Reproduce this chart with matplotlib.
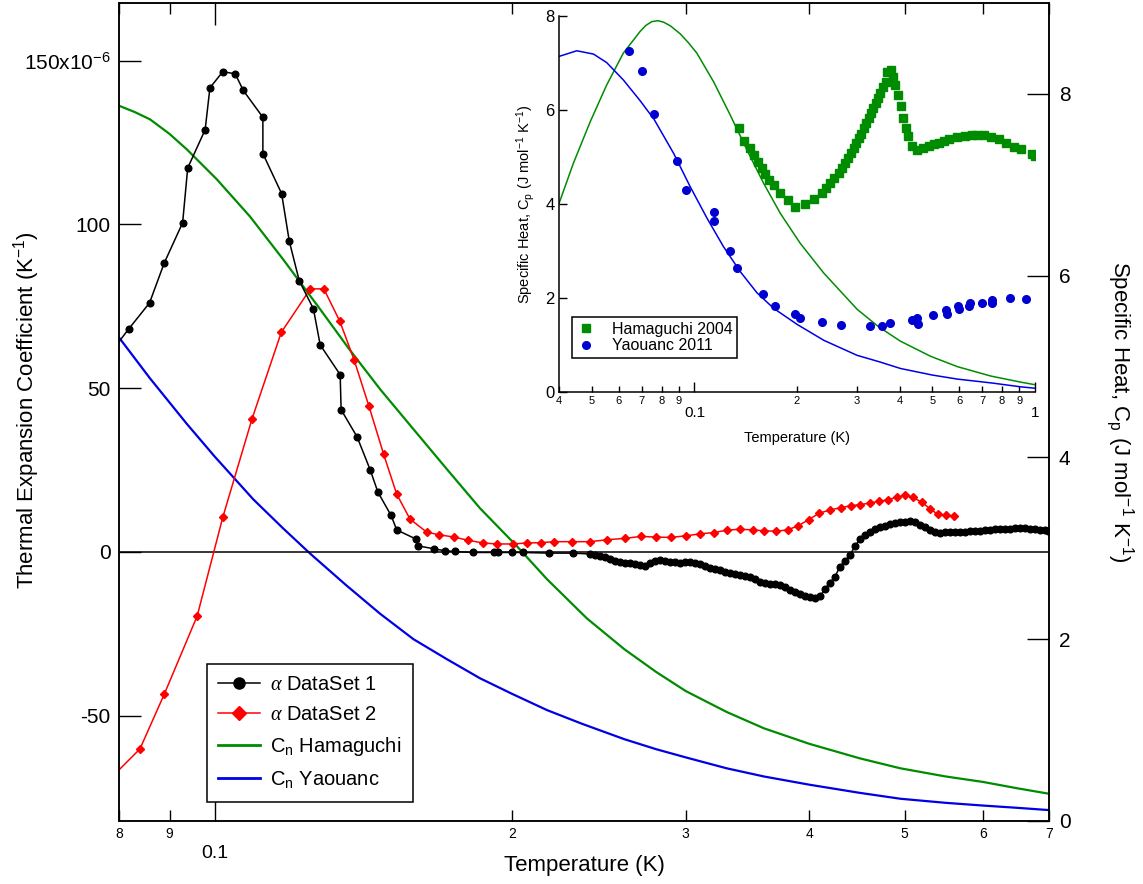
import numpy as np
import matplotlib
matplotlib.use("Agg")
import matplotlib.pyplot as plt
from matplotlib.ticker import FixedLocator, FuncFormatter, NullLocator
from matplotlib.lines import Line2D

# ---------------- data ----------------
# alpha DataSet 1 : T (K), alpha (1e-6 / K)
ds1_T = [0.0790, 0.0818, 0.0859, 0.0889, 0.0928, 0.0939, 0.0978, 0.0989, 0.1019, 0.1049,
         0.1069, 0.1119, 0.1119, 0.1169, 0.1190, 0.1218, 0.1259, 0.1279, 0.1340, 0.1343,
         0.1394, 0.1437, 0.1463, 0.1509, 0.1529, 0.1599, 0.1608, 0.1669, 0.1712, 0.1752,
         0.1826, 0.1919, 0.1935, 0.2000, 0.2052, 0.2182, 0.2309,
         0.2400, 0.2428, 0.2457, 0.2486, 0.2515, 0.2544, 0.2574, 0.2604, 0.2635, 0.2666,
         0.2697, 0.2729, 0.2761, 0.2793, 0.2826, 0.2859, 0.2892, 0.2926, 0.2961, 0.2995,
         0.3030, 0.3066, 0.3102, 0.3138, 0.3175, 0.3212, 0.3250, 0.3288, 0.3327, 0.3366,
         0.3405, 0.3445, 0.3486, 0.3526, 0.3568, 0.3610, 0.3652, 0.3695, 0.3738, 0.3782,
         0.3826, 0.3871, 0.3917, 0.3962, 0.4009, 0.4056, 0.4104, 0.4152, 0.4200, 0.4250,
         0.4299, 0.4350, 0.4401, 0.4452, 0.4505, 0.4558, 0.4611, 0.4665, 0.4720, 0.4775,
         0.4831, 0.4888, 0.4945, 0.5003, 0.5062, 0.5121, 0.5181, 0.5242, 0.5303, 0.5366,
         0.5429, 0.5492, 0.5557, 0.5622, 0.5688, 0.5754, 0.5822, 0.5890, 0.5959, 0.6029,
         0.6100, 0.6171, 0.6244, 0.6317, 0.6391, 0.6466, 0.6542, 0.6619, 0.6696, 0.6775,
         0.6854, 0.6935, 0.6983]
ds1_a = [62.0, 68.0, 76.0, 88.2, 100.5, 117.2, 128.9, 141.7, 146.6, 146.0,
         140.9, 132.7, 121.6, 109.4, 94.9, 82.8, 74.2, 63.2, 54.1, 43.4,
         35.1, 25.1, 18.3, 11.1, 6.7, 3.9, 1.8, 0.9, 0.3, 0.1,
         -0.2, -0.2, -0.2, -0.2, -0.2, -0.4, -0.4,
         -0.67, -0.82, -1.16, -1.71, -2.29, -2.75, -3.06, -3.30, -3.39, -3.57,
         -3.91, -4.28, -3.48, -2.84, -2.44, -2.69, -2.96, -3.12, -3.27, -3.12,
         -2.96, -3.27, -3.61, -4.31, -5.04, -5.38, -5.68, -6.02, -6.33, -6.63,
         -6.94, -7.30, -7.73, -8.40, -9.10, -9.62, -9.78, -9.93, -10.08, -10.85,
         -11.61, -12.28, -12.92, -13.47, -13.81, -13.99, -13.60, -11.30, -9.38, -7.55,
         -4.49, -2.69, -0.92, 1.74, 3.88, 5.01, 5.96, 6.90, 7.55, 8.00,
         8.46, 8.83, 9.01, 9.17, 9.35, 9.17, 8.31, 7.49, 6.81, 6.11,
         5.90, 5.96, 6.02, 6.05, 6.11, 6.17, 6.26, 6.36, 6.48, 6.60,
         6.72, 6.84, 6.94, 7.03, 7.09, 7.18, 7.24, 7.15, 7.03, 6.87,
         6.72, 6.60, 6.51]

# alpha DataSet 2
ds2_T = [0.0783, 0.0840, 0.0889, 0.0960, 0.1019, 0.1091, 0.1168, 0.1250, 0.1290, 0.1339,
         0.1384, 0.1433, 0.1483, 0.1529, 0.1577, 0.1640, 0.1689, 0.1748, 0.1807, 0.1871,
         0.1930, 0.2004, 0.2071, 0.2140, 0.2209, 0.2300, 0.2400, 0.2499, 0.2601, 0.2702,
         0.2800, 0.2899, 0.3002, 0.3103, 0.3205, 0.3302, 0.3401, 0.3509, 0.3605, 0.3705,
         0.3804, 0.3897, 0.3995, 0.4096, 0.4203, 0.4309, 0.4411, 0.4507, 0.4606, 0.4708,
         0.4808, 0.4910, 0.5006, 0.5093, 0.5205, 0.5307, 0.5402, 0.5507, 0.5612]
ds2_a = [-69.4, -60.2, -43.5, -19.6, 10.5, 40.6, 67.0, 80.3, 80.3, 70.4,
         58.7, 44.5, 29.8, 17.6, 10.0, 6.0, 5.2, 4.5, 3.5, 2.7,
         2.4, 2.4, 2.7, 2.8, 3.1, 3.1, 3.1, 3.7, 4.1, 4.7,
         4.5, 4.4, 4.9, 5.5, 5.9, 6.6, 6.9, 6.7, 6.4, 6.3,
         6.7, 7.9, 9.8, 11.8, 12.8, 13.5, 14.1, 14.4, 14.9, 15.4,
         15.9, 16.7, 17.3, 16.7, 15.1, 13.1, 11.4, 11.1, 11.0]

# Cn curves on the main plot (right axis, J/mol/K)
hama_T = [0.0800, 0.0830, 0.0860, 0.0900, 0.0937, 0.1005, 0.1086, 0.1173, 0.1279, 0.1369,
          0.1471, 0.1590, 0.1719, 0.1857, 0.2021, 0.2171, 0.2382, 0.2600, 0.2800, 0.3000,
          0.3300, 0.3600, 0.4000, 0.4500, 0.4948, 0.5500, 0.6000, 0.6500, 0.7000]
hama_C = [7.87, 7.80, 7.72, 7.56, 7.39, 7.06, 6.65, 6.18, 5.63, 5.19,
          4.75, 4.31, 3.87, 3.44, 3.03, 2.66, 2.23, 1.89, 1.64, 1.43,
          1.20, 1.02, 0.85, 0.69, 0.58, 0.49, 0.43, 0.36, 0.30]
yaou_T = [0.0800, 0.0860, 0.0937, 0.1000, 0.1094, 0.1173, 0.1250, 0.1357, 0.1471, 0.1590,
          0.1719, 0.1857, 0.2000, 0.2171, 0.2355, 0.2600, 0.2800, 0.3000, 0.3300, 0.3600,
          0.4000, 0.4500, 0.4948, 0.5500, 0.6000, 0.6500, 0.7000]
yaou_C = [5.32, 4.87, 4.37, 4.01, 3.54, 3.22, 2.94, 2.60, 2.28, 2.00,
          1.78, 1.57, 1.40, 1.22, 1.07, 0.90, 0.79, 0.70, 0.58, 0.49,
          0.40, 0.31, 0.245, 0.20, 0.17, 0.145, 0.12]

# inset: measured specific heat
ham04_T = [0.1348, 0.1394, 0.1452, 0.1492, 0.1532, 0.1579, 0.1614, 0.1655, 0.1708, 0.1787,
           0.1877, 0.1978, 0.2107, 0.2249, 0.2370, 0.2441, 0.2507, 0.2576, 0.2653, 0.2714,
           0.2776, 0.2818, 0.2884, 0.2936, 0.2989, 0.3036, 0.3085, 0.3141, 0.3199, 0.3249,
           0.3303, 0.3348, 0.3401, 0.3455, 0.3517, 0.3573, 0.3639, 0.3681, 0.3764, 0.3833,
           0.3892, 0.3955, 0.4028, 0.4091, 0.4184, 0.4243, 0.4361, 0.4510, 0.4685, 0.4880,
           0.5046, 0.5221, 0.5400, 0.5585, 0.5912, 0.6212, 0.6515, 0.6771, 0.7081, 0.7408,
           0.7836, 0.8204, 0.8677, 0.9081, 0.9825, 1.0000]
ham04_C = [5.61, 5.33, 5.19, 5.04, 4.90, 4.76, 4.64, 4.51, 4.40, 4.24,
           4.09, 3.94, 4.01, 4.10, 4.23, 4.33, 4.45, 4.55, 4.65, 4.76,
           4.87, 4.97, 5.08, 5.19, 5.29, 5.40, 5.50, 5.61, 5.72, 5.82,
           5.93, 6.04, 6.14, 6.25, 6.36, 6.48, 6.59, 6.81, 6.85, 6.71,
           6.53, 6.32, 6.09, 5.84, 5.61, 5.45, 5.24, 5.15, 5.19, 5.23,
           5.27, 5.30, 5.34, 5.38, 5.42, 5.45, 5.47, 5.47, 5.46, 5.43,
           5.38, 5.30, 5.22, 5.17, 5.06, 5.02]
yao11_T = [0.0640, 0.0703, 0.0761, 0.0888, 0.0945, 0.1140, 0.1140, 0.1268, 0.1333, 0.1589,
           0.1719, 0.1978, 0.2046, 0.2370, 0.2701, 0.3287, 0.3558, 0.3746, 0.4340, 0.4488,
           0.4540, 0.5012, 0.5460, 0.5525, 0.5937, 0.5992, 0.6440, 0.6396, 0.6970, 0.7494,
           0.7494, 0.8428, 0.9436]
yao11_C = [7.26, 6.84, 5.91, 4.91, 4.30, 3.82, 3.63, 3.01, 2.64, 2.09,
           1.83, 1.67, 1.57, 1.48, 1.43, 1.40, 1.41, 1.46, 1.53, 1.57,
           1.45, 1.64, 1.74, 1.67, 1.83, 1.76, 1.89, 1.83, 1.89, 1.96,
           1.89, 2.01, 1.98]

# inset: model curves
in_hama_T = [0.0400, 0.0441, 0.0494, 0.0552, 0.0618, 0.0692, 0.0720, 0.0749, 0.0780, 0.0811,
             0.0850, 0.0908, 0.0960, 0.1016, 0.1138, 0.1274, 0.1426, 0.1596, 0.1787, 0.2046,
             0.2397, 0.3003, 0.3470, 0.4028, 0.4935, 0.5912, 0.7410, 0.9080, 1.0000]
in_hama_C = [4.01, 4.87, 5.75, 6.53, 7.21, 7.67, 7.80, 7.88, 7.90, 7.87,
             7.79, 7.62, 7.43, 7.21, 6.60, 5.89, 5.15, 4.44, 3.80, 3.16,
             2.53, 1.76, 1.39, 1.08, 0.76, 0.54, 0.34, 0.21, 0.155]
in_yaou_T = [0.0400, 0.0451, 0.0505, 0.0552, 0.0618, 0.0692, 0.0761, 0.0868, 0.0971, 0.1088,
             0.1217, 0.1363, 0.1526, 0.1708, 0.2000, 0.2397, 0.3003, 0.3500, 0.4028, 0.5000,
             0.5912, 0.7500, 0.9080, 1.0000]
in_yaou_C = [7.14, 7.26, 7.19, 7.01, 6.64, 6.20, 5.80, 5.08, 4.37, 3.70,
             3.09, 2.56, 2.11, 1.78, 1.44, 1.10, 0.78, 0.64, 0.50, 0.36,
             0.275, 0.19, 0.11, 0.08]

main_minor = [0.08, 0.09, 0.2, 0.3, 0.4, 0.5, 0.6, 0.7]
inset_minor = [0.04, 0.05, 0.06, 0.07, 0.08, 0.09, 0.2, 0.3, 0.4, 0.5, 0.6, 0.7, 0.8, 0.9]

GREEN = "#008c00"
BLUE = "#0000e6"

# ---------------- fonts ----------------
plt.rcParams["font.family"] = ["Liberation Sans", "DejaVu Sans"]
plt.rcParams["mathtext.fontset"] = "custom"
plt.rcParams["mathtext.rm"] = "Liberation Sans"
plt.rcParams["mathtext.it"] = "Liberation Serif:italic"
plt.rcParams["mathtext.default"] = "regular"

W, H = 1143, 884
fig = plt.figure(figsize=(W / 100, H / 100), dpi=100)


def fx(px):
    return px / W


def fy(py):
    return 1 - py / H


def first_digit(v, pos):
    return "%d" % round(v / 10 ** np.floor(np.log10(v) + 1e-9))


# ---------------- main axes ----------------
ax = fig.add_axes([fx(119), fy(821), fx(1049) - fx(119), fy(3) - fy(821)])
ax2 = ax.twinx()
ax.set_zorder(2)
ax2.set_zorder(1)
ax.patch.set_visible(False)

ax.set_xscale("log")
ax.set_xlim(0.08, 0.7)
ax.set_ylim(-82.2, 167.6)
ax2.set_ylim(0, 9.0)

ax.axhline(0, color="black", lw=1.1, zorder=1)
ax.plot(ds1_T, ds1_a, color="black", lw=1.1, marker="o", ms=4.8, zorder=3)
ax.plot(ds2_T, ds2_a, color="red", lw=1.1, marker="D", ms=4.2, zorder=2)
ax2.plot(hama_T, hama_C, color=GREEN, lw=1.6)
ax2.plot(yaou_T, yaou_C, color=BLUE, lw=1.6)

ax.xaxis.set_major_locator(FixedLocator([0.1]))
ax.xaxis.set_minor_locator(FixedLocator(main_minor))
ax.xaxis.set_major_formatter(FuncFormatter(lambda v, p: "0.1"))
ax.xaxis.set_minor_formatter(FuncFormatter(first_digit))
ax.yaxis.set_major_locator(FixedLocator([-50, 0, 50, 100, 150]))
ax.yaxis.set_minor_locator(NullLocator())
ax.yaxis.set_major_formatter(FuncFormatter(
    lambda v, p: "150x10$^{-6}$" if v == 150 else "%d" % v))
ax2.yaxis.set_major_locator(FixedLocator([0, 2, 4, 6, 8]))

ax.tick_params(which="both", direction="in", top=True, right=False, width=1.0, colors="black")
ax.tick_params(axis="x", which="major", length=16, pad=17, labelsize=14)
ax.tick_params(axis="x", which="minor", length=8, pad=4, labelsize=10)
ax.tick_params(axis="y", which="major", length=16, pad=6, labelsize=15)
ax2.tick_params(axis="y", direction="in", length=16, width=1.0, pad=7, labelsize=15)
for a in (ax, ax2):
    for s in a.spines.values():
        s.set_linewidth(1.1)

fig.text(fx(27), fy(410), "Thermal Expansion Coefficient (K$^{-1}$)", rotation=90,
         ha="center", va="center", fontsize=16)
fig.text(fx(1120), fy(412), "Specific Heat, C$_p$ (J mol$^{-1}$ K$^{-1}$)", rotation=-90,
         ha="center", va="center", fontsize=16)
fig.text(fx(584), fy(866), "Temperature (K)", ha="center", va="center", fontsize=16)

handles = [
    Line2D([], [], color="black", lw=1.1, marker="o", ms=8),
    Line2D([], [], color="red", lw=1.1, marker="D", ms=7),
    Line2D([], [], color=GREEN, lw=2),
    Line2D([], [], color=BLUE, lw=2),
]
labels = [r"$\mathit{\alpha}$ DataSet 1", r"$\mathit{\alpha}$ DataSet 2",
          "C$_n$ Hamaguchi", "C$_n$ Yaouanc"]
leg = ax.legend(handles, labels, loc="upper left", bbox_to_anchor=(fx(207), fy(664)),
                bbox_transform=fig.transFigure, borderaxespad=0, fontsize=14.5,
                frameon=True, fancybox=False, edgecolor="black", framealpha=1,
                handlelength=2.1, handletextpad=0.5, labelspacing=0.55, borderpad=0.55,
                numpoints=1)
leg.get_frame().set_linewidth(1.1)

# ---------------- inset ----------------
ins = fig.add_axes([fx(559), fy(392), fx(1035) - fx(559), fy(16) - fy(392)])
ins.set_zorder(5)
ins.patch.set_alpha(0)
ins.set_xscale("log")
ins.set_xlim(0.04, 1.0)
ins.set_ylim(0, 8)
ins.spines["top"].set_visible(False)
ins.spines["right"].set_visible(False)

ins.plot(in_hama_T, in_hama_C, color=GREEN, lw=1.1)
ins.plot(in_yaou_T, in_yaou_C, color=BLUE, lw=1.1)
ins.plot(ham04_T, ham04_C, ls="none", marker="s", ms=5.5, color=GREEN,
         label="Hamaguchi 2004")
ins.plot(yao11_T, yao11_C, ls="none", marker="o", ms=5.5, color="#0000d0",
         label="Yaouanc 2011")

ins.xaxis.set_major_locator(FixedLocator([0.1, 1.0]))
ins.xaxis.set_minor_locator(FixedLocator(inset_minor))
ins.xaxis.set_major_formatter(FuncFormatter(lambda v, p: "0.1" if v < 0.5 else "1"))
ins.xaxis.set_minor_formatter(FuncFormatter(first_digit))
ins.yaxis.set_major_locator(FixedLocator([0, 2, 4, 6, 8]))
ins.tick_params(which="both", direction="in", width=1.0)
ins.tick_params(axis="x", which="major", length=7, pad=10, labelsize=11)
ins.tick_params(axis="x", which="minor", length=4, pad=3, labelsize=8)
ins.tick_params(axis="y", length=6, pad=3, labelsize=12)
ins.set_xlabel("Temperature (K)", fontsize=10.5, labelpad=8)
ins.set_ylabel("Specific Heat, C$_p$ (J mol$^{-1}$ K$^{-1}$)", fontsize=10.5, labelpad=6)
for s in ins.spines.values():
    s.set_linewidth(1.1)

ileg = ins.legend(loc="upper left", bbox_to_anchor=(fx(572), fy(317)),
                  bbox_transform=fig.transFigure, borderaxespad=0, fontsize=11.5,
                  frameon=True, fancybox=False, edgecolor="black", framealpha=1,
                  handlelength=1.2, handletextpad=1.0, labelspacing=0.1, borderpad=0.3,
                  numpoints=1)
ileg.get_frame().set_linewidth(1.1)

fig.savefig("out.png", dpi=100)
